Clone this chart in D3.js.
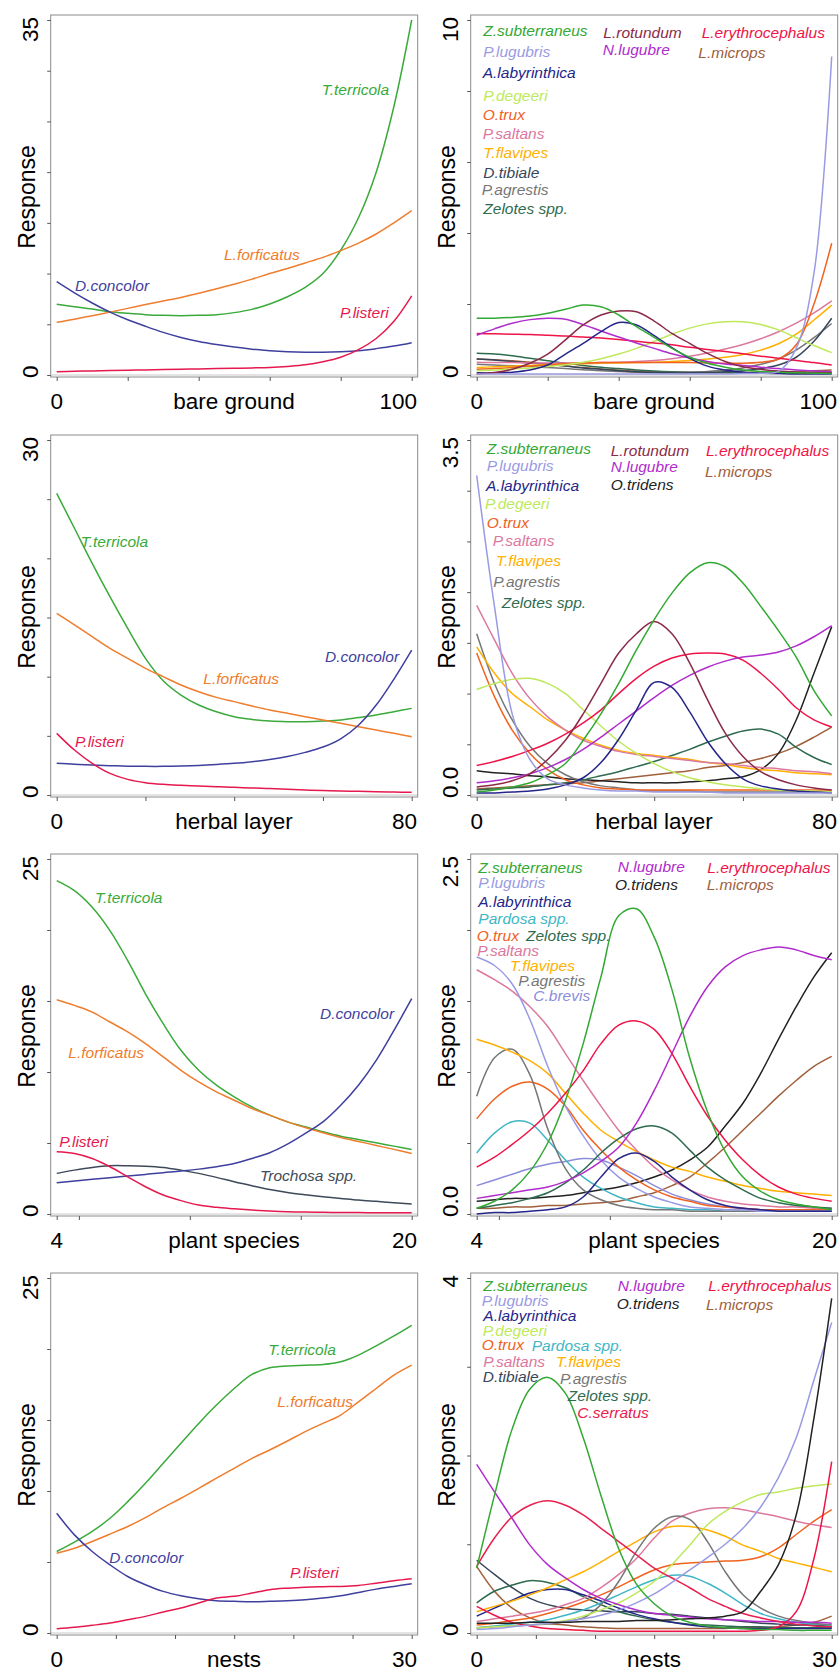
<!DOCTYPE html>
<html>
<head>
<meta charset="utf-8">
<script src="https://cdn.jsdelivr.net/npm/d3@7"></script>
<style>
  body { margin: 0; background: #fff; }
  text { font-family: "Liberation Sans", Arial, sans-serif; }
</style>
</head>
<body>
<script>
// x grids of the four gradients
var xBare = [0, 5, 10, 15, 20, 25, 30, 35, 40, 45, 50, 55, 60, 65, 70, 75, 80, 85, 90, 95, 100]
var xHerbal = [0, 4, 8, 12, 16, 20, 24, 28, 32, 36, 40, 44, 48, 52, 56, 60, 64, 68, 72, 76, 80]
var xPlant = [4, 4.8, 5.6, 6.4, 7.2, 8, 8.8, 9.6, 10.4, 11.2, 12, 12.8, 13.6, 14.4, 15.2, 16, 16.8, 17.6, 18.4, 19.2, 20]
var xNests = [0, 1.5, 3, 4.5, 6, 7.5, 9, 10.5, 12, 13.5, 15, 16.5, 18, 19.5, 21, 22.5, 24, 25.5, 27, 28.5, 30]

// bare ground, abundant species
var bareLeft = [
  ['T.terricola', [6.97, 6.74, 6.51, 6.24, 6.08, 5.95, 5.88, 5.85, 5.88, 5.95, 6.15, 6.47, 7.0, 7.72, 8.64, 10.0, 12.3, 15.5, 20.0, 26.5, 35.0]],
  ['L.forficatus', [5.19, 5.5, 5.85, 6.2, 6.57, 6.95, 7.3, 7.65, 8.05, 8.5, 8.95, 9.45, 10.0, 10.5, 11.05, 11.6, 12.26, 13.0, 13.9, 15.0, 16.2]],
  ['D.concolor', [9.2, 8.1, 7.1, 6.2, 5.45, 4.8, 4.2, 3.7, 3.3, 3.0, 2.75, 2.55, 2.4, 2.3, 2.25, 2.25, 2.3, 2.4, 2.6, 2.85, 3.19]],
  ['P.listeri', [0.33, 0.37, 0.4, 0.44, 0.47, 0.5, 0.53, 0.56, 0.6, 0.63, 0.66, 0.7, 0.75, 0.85, 1.0, 1.3, 1.75, 2.5, 3.6, 5.3, 7.8]]
]

// bare ground, other species
var bareRight = [
  ['L.microps', [0.45, 0.43, 0.4, 0.36, 0.31, 0.26, 0.21, 0.17, 0.14, 0.11, 0.09, 0.08, 0.07, 0.07, 0.07, 0.07, 0.08, 0.09, 0.1, 0.12, 0.14]],
  ['Zelotes spp.', [0.61, 0.59, 0.54, 0.47, 0.4, 0.33, 0.27, 0.22, 0.18, 0.14, 0.11, 0.09, 0.08, 0.07, 0.06, 0.06, 0.05, 0.05, 0.05, 0.05, 0.05]],
  ['P.agrestis', [0.3, 0.28, 0.26, 0.24, 0.21, 0.18, 0.15, 0.12, 0.1, 0.08, 0.07, 0.07, 0.08, 0.1, 0.14, 0.2, 0.3, 0.45, 0.7, 1.05, 1.45]],
  ['D.tibiale', [0.45, 0.42, 0.38, 0.34, 0.3, 0.25, 0.2, 0.16, 0.12, 0.09, 0.07, 0.06, 0.06, 0.07, 0.09, 0.12, 0.18, 0.28, 0.5, 0.95, 1.6]],
  ['T.flavipes', [0.21, 0.23, 0.25, 0.27, 0.29, 0.31, 0.32, 0.33, 0.34, 0.35, 0.36, 0.38, 0.41, 0.45, 0.5, 0.58, 0.7, 0.88, 1.15, 1.55, 1.97]],
  ['P.saltans', [0.36, 0.35, 0.35, 0.34, 0.34, 0.34, 0.34, 0.35, 0.36, 0.38, 0.41, 0.46, 0.53, 0.62, 0.73, 0.86, 1.02, 1.22, 1.46, 1.75, 2.09]],
  ['O.trux', [0.16, 0.18, 0.21, 0.25, 0.29, 0.32, 0.34, 0.35, 0.35, 0.35, 0.35, 0.35, 0.35, 0.34, 0.33, 0.33, 0.36, 0.45, 0.85, 2.0, 3.71]],
  ['P.degeeri', [0.12, 0.14, 0.17, 0.2, 0.24, 0.29, 0.36, 0.46, 0.59, 0.75, 0.95, 1.15, 1.32, 1.44, 1.5, 1.5, 1.42, 1.27, 1.05, 0.83, 0.63]],
  ['L.erythrocephalus', [1.17, 1.16, 1.15, 1.14, 1.12, 1.1, 1.07, 1.04, 1.0, 0.95, 0.9, 0.85, 0.78, 0.72, 0.66, 0.6, 0.53, 0.47, 0.41, 0.35, 0.28]],
  ['N.lugubre', [1.12, 1.3, 1.46, 1.56, 1.6, 1.57, 1.42, 1.24, 1.07, 0.9, 0.75, 0.6, 0.48, 0.38, 0.31, 0.27, 0.22, 0.18, 0.14, 0.11, 0.09]],
  ['A.labyrinthica', [0.06, 0.06, 0.08, 0.14, 0.28, 0.59, 0.89, 1.22, 1.48, 1.41, 1.11, 0.77, 0.47, 0.25, 0.14, 0.08, 0.05, 0.04, 0.03, 0.03, 0.03]],
  ['L.rotundum', [0.03, 0.07, 0.16, 0.33, 0.59, 0.99, 1.41, 1.69, 1.8, 1.78, 1.52, 1.17, 0.89, 0.61, 0.38, 0.23, 0.16, 0.11, 0.08, 0.07, 0.06]],
  ['Z.subterraneus', [1.6, 1.6, 1.62, 1.66, 1.74, 1.85, 1.97, 1.92, 1.69, 1.36, 1.06, 0.75, 0.5, 0.33, 0.22, 0.14, 0.1, 0.08, 0.06, 0.05, 0.04]],
  ['P.lugubris', [0.03, 0.03, 0.03, 0.03, 0.03, 0.03, 0.03, 0.03, 0.03, 0.03, 0.03, 0.03, 0.03, 0.03, 0.03, 0.04, 0.05, 0.1, 0.75, 2.86, 8.97]]
]

// herbal layer
var herbalLeft = [
  ['T.terricola', [25.49, 22.54, 19.58, 16.76, 14.08, 11.55, 9.66, 8.45, 7.61, 7.04, 6.62, 6.39, 6.25, 6.2, 6.2, 6.25, 6.34, 6.54, 6.76, 7.04, 7.32]],
  ['L.forficatus', [15.35, 14.37, 13.38, 12.39, 11.55, 10.7, 10.0, 9.3, 8.73, 8.25, 7.89, 7.52, 7.18, 6.9, 6.62, 6.34, 6.06, 5.77, 5.49, 5.21, 4.93]],
  ['D.concolor', [2.68, 2.6, 2.53, 2.48, 2.44, 2.42, 2.42, 2.45, 2.5, 2.58, 2.68, 2.82, 3.0, 3.25, 3.6, 4.05, 4.75, 5.9, 7.6, 9.8, 12.25]],
  ['P.listeri', [5.21, 3.8, 2.68, 1.83, 1.32, 1.04, 0.9, 0.82, 0.76, 0.7, 0.65, 0.59, 0.54, 0.48, 0.42, 0.37, 0.34, 0.31, 0.28, 0.25, 0.23]]
]

var herbalRight = [
  ['L.microps', [0.06, 0.07, 0.08, 0.09, 0.1, 0.11, 0.12, 0.14, 0.16, 0.18, 0.2, 0.22, 0.24, 0.27, 0.29, 0.32, 0.36, 0.41, 0.48, 0.57, 0.67]],
  ['O.tridens', [0.24, 0.22, 0.21, 0.19, 0.18, 0.16, 0.15, 0.14, 0.13, 0.12, 0.12, 0.12, 0.13, 0.14, 0.16, 0.18, 0.25, 0.41, 0.74, 1.2, 1.66]],
  ['Zelotes spp.', [0.05, 0.06, 0.07, 0.08, 0.1, 0.12, 0.15, 0.19, 0.23, 0.28, 0.33, 0.39, 0.45, 0.52, 0.58, 0.63, 0.65, 0.6, 0.47, 0.37, 0.3]],
  ['P.agrestis', [1.59, 1.1, 0.74, 0.48, 0.31, 0.2, 0.13, 0.09, 0.07, 0.05, 0.04, 0.04, 0.04, 0.03, 0.03, 0.03, 0.03, 0.03, 0.03, 0.03, 0.03]],
  ['T.flavipes', [1.46, 1.2, 1.0, 0.87, 0.74, 0.64, 0.56, 0.49, 0.44, 0.41, 0.39, 0.37, 0.35, 0.32, 0.3, 0.27, 0.25, 0.24, 0.22, 0.21, 0.2]],
  ['P.saltans', [1.87, 1.53, 1.2, 0.95, 0.77, 0.64, 0.54, 0.48, 0.43, 0.4, 0.38, 0.36, 0.34, 0.32, 0.31, 0.29, 0.27, 0.26, 0.24, 0.23, 0.21]],
  ['O.trux', [1.4, 0.97, 0.64, 0.41, 0.25, 0.15, 0.1, 0.07, 0.06, 0.05, 0.05, 0.05, 0.05, 0.05, 0.05, 0.05, 0.05, 0.05, 0.05, 0.05, 0.05]],
  ['P.degeeri', [1.04, 1.1, 1.14, 1.15, 1.1, 1.0, 0.84, 0.68, 0.53, 0.41, 0.31, 0.23, 0.17, 0.13, 0.1, 0.08, 0.06, 0.05, 0.04, 0.04, 0.03]],
  ['L.erythrocephalus', [0.29, 0.33, 0.38, 0.44, 0.51, 0.6, 0.71, 0.84, 1.0, 1.15, 1.27, 1.35, 1.39, 1.4, 1.39, 1.33, 1.2, 1.04, 0.86, 0.74, 0.67]],
  ['N.lugubre', [0.12, 0.14, 0.17, 0.21, 0.27, 0.35, 0.45, 0.57, 0.7, 0.83, 0.96, 1.08, 1.18, 1.26, 1.32, 1.36, 1.38, 1.41, 1.47, 1.56, 1.67]],
  ['A.labyrinthica', [0.02, 0.02, 0.03, 0.04, 0.06, 0.1, 0.17, 0.32, 0.55, 0.84, 1.11, 1.06, 0.82, 0.53, 0.31, 0.16, 0.09, 0.06, 0.04, 0.03, 0.02]],
  ['L.rotundum', [0.08, 0.1, 0.14, 0.21, 0.35, 0.54, 0.8, 1.1, 1.4, 1.59, 1.71, 1.59, 1.3, 0.94, 0.61, 0.38, 0.23, 0.15, 0.1, 0.07, 0.05]],
  ['Z.subterraneus', [0.03, 0.05, 0.08, 0.12, 0.2, 0.31, 0.54, 0.8, 1.1, 1.43, 1.73, 1.99, 2.19, 2.29, 2.25, 2.09, 1.86, 1.62, 1.36, 1.03, 0.78]],
  ['P.lugubris', [3.15, 1.86, 0.8, 0.35, 0.16, 0.1, 0.07, 0.05, 0.04, 0.04, 0.03, 0.03, 0.03, 0.03, 0.02, 0.02, 0.02, 0.02, 0.02, 0.02, 0.02]]
]

// plant species
var plantLeft = [
  ['Trochosa spp.', [2.86, 3.09, 3.28, 3.4, 3.4, 3.37, 3.28, 3.09, 2.86, 2.58, 2.27, 1.99, 1.73, 1.52, 1.36, 1.22, 1.1, 0.98, 0.89, 0.8, 0.7]],
  ['T.terricola', [23.48, 22.77, 21.6, 19.96, 17.85, 15.51, 13.4, 11.53, 10.12, 9.07, 8.25, 7.54, 6.96, 6.49, 6.14, 5.79, 5.48, 5.25, 5.01, 4.78, 4.55]],
  ['L.forficatus', [15.09, 14.69, 14.22, 13.52, 12.82, 12.0, 11.06, 10.12, 9.3, 8.6, 8.01, 7.43, 6.96, 6.49, 6.09, 5.72, 5.39, 5.11, 4.83, 4.55, 4.26]],
  ['D.concolor', [2.2, 2.32, 2.44, 2.55, 2.67, 2.79, 2.91, 3.02, 3.16, 3.33, 3.56, 3.91, 4.31, 4.92, 5.67, 6.49, 7.66, 9.07, 10.82, 12.93, 15.16]],
  ['P.listeri', [4.38, 4.26, 3.91, 3.33, 2.62, 1.92, 1.34, 0.94, 0.63, 0.47, 0.37, 0.28, 0.21, 0.16, 0.14, 0.12, 0.11, 0.1, 0.09, 0.09, 0.08]]
]

var plantRight = [
  ['L.microps', [0.04, 0.04, 0.05, 0.05, 0.06, 0.06, 0.07, 0.08, 0.09, 0.12, 0.15, 0.2, 0.26, 0.36, 0.47, 0.59, 0.71, 0.83, 0.94, 1.04, 1.11]],
  ['O.tridens', [0.09, 0.1, 0.11, 0.11, 0.12, 0.13, 0.15, 0.17, 0.19, 0.22, 0.26, 0.31, 0.38, 0.47, 0.62, 0.78, 0.99, 1.23, 1.46, 1.67, 1.84]],
  ['C.brevis', [0.2, 0.24, 0.28, 0.32, 0.35, 0.37, 0.39, 0.38, 0.33, 0.27, 0.2, 0.14, 0.1, 0.07, 0.05, 0.04, 0.03, 0.03, 0.03, 0.03, 0.03]],
  ['Pardosa spp.', [0.43, 0.57, 0.65, 0.64, 0.52, 0.38, 0.26, 0.18, 0.12, 0.08, 0.05, 0.04, 0.03, 0.03, 0.02, 0.02, 0.02, 0.02, 0.02, 0.02, 0.02]],
  ['O.trux', [0.67, 0.81, 0.9, 0.93, 0.88, 0.76, 0.59, 0.45, 0.33, 0.24, 0.17, 0.12, 0.09, 0.06, 0.05, 0.04, 0.03, 0.03, 0.03, 0.03, 0.03]],
  ['P.agrestis', [0.83, 1.1, 1.16, 0.98, 0.6, 0.32, 0.17, 0.1, 0.06, 0.04, 0.03, 0.03, 0.02, 0.02, 0.02, 0.02, 0.02, 0.02, 0.02, 0.02, 0.02]],
  ['T.flavipes', [1.23, 1.19, 1.14, 1.08, 0.99, 0.85, 0.71, 0.59, 0.51, 0.44, 0.38, 0.33, 0.3, 0.26, 0.23, 0.2, 0.18, 0.16, 0.15, 0.14, 0.13]],
  ['P.saltans', [1.72, 1.65, 1.57, 1.46, 1.32, 1.13, 0.94, 0.76, 0.59, 0.45, 0.33, 0.24, 0.17, 0.12, 0.09, 0.07, 0.06, 0.05, 0.05, 0.04, 0.04]],
  ['P.lugubris', [1.81, 1.75, 1.62, 1.37, 1.04, 0.76, 0.55, 0.38, 0.26, 0.18, 0.12, 0.08, 0.05, 0.04, 0.03, 0.03, 0.02, 0.02, 0.02, 0.02, 0.02]],
  ['Zelotes spp.', [0.04, 0.06, 0.08, 0.11, 0.15, 0.22, 0.31, 0.43, 0.53, 0.6, 0.62, 0.57, 0.45, 0.33, 0.24, 0.17, 0.11, 0.08, 0.06, 0.05, 0.04]],
  ['A.labyrinthica', [0.0, 0.01, 0.01, 0.02, 0.03, 0.05, 0.12, 0.26, 0.39, 0.43, 0.37, 0.26, 0.17, 0.1, 0.06, 0.04, 0.03, 0.02, 0.02, 0.02, 0.02]],
  ['N.lugubre', [0.11, 0.13, 0.15, 0.17, 0.19, 0.23, 0.29, 0.37, 0.47, 0.64, 0.87, 1.13, 1.39, 1.6, 1.74, 1.82, 1.86, 1.88, 1.86, 1.82, 1.79]],
  ['L.erythrocephalus', [0.33, 0.4, 0.49, 0.59, 0.71, 0.85, 1.01, 1.2, 1.33, 1.36, 1.3, 1.13, 0.9, 0.69, 0.52, 0.38, 0.27, 0.19, 0.14, 0.11, 0.09]],
  ['Z.subterraneus', [0.04, 0.09, 0.17, 0.3, 0.5, 0.8, 1.2, 1.67, 2.1, 2.15, 1.95, 1.58, 1.1, 0.72, 0.44, 0.26, 0.16, 0.1, 0.07, 0.05, 0.03]]
]

// nests
var nestsLeft = [
  ['T.terricola', [5.74, 6.4, 7.15, 8.08, 9.25, 10.54, 11.95, 13.36, 14.76, 16.05, 17.22, 18.21, 18.68, 18.81, 18.86, 18.91, 19.1, 19.57, 20.22, 20.92, 21.67]],
  ['L.forficatus', [5.62, 5.97, 6.44, 6.96, 7.5, 8.13, 8.83, 9.49, 10.19, 10.9, 11.6, 12.3, 12.89, 13.52, 14.18, 14.76, 15.35, 16.28, 17.22, 18.16, 18.86]],
  ['D.concolor', [8.43, 6.91, 5.74, 4.8, 3.98, 3.4, 2.93, 2.62, 2.41, 2.27, 2.23, 2.2, 2.23, 2.27, 2.34, 2.46, 2.62, 2.86, 3.09, 3.28, 3.47]],
  ['P.listeri', [0.3, 0.4, 0.54, 0.7, 0.94, 1.17, 1.48, 1.76, 2.11, 2.46, 2.58, 2.81, 3.05, 3.16, 3.23, 3.26, 3.28, 3.35, 3.51, 3.68, 3.82]]
]

var nestsRight = [
  ['L.microps', [0.75, 0.47, 0.28, 0.17, 0.11, 0.09, 0.07, 0.06, 0.05, 0.05, 0.05, 0.05, 0.05, 0.05, 0.05, 0.06, 0.06, 0.07, 0.09, 0.12, 0.19]],
  ['D.tibiale', [0.82, 0.66, 0.51, 0.39, 0.32, 0.28, 0.26, 0.25, 0.24, 0.24, 0.22, 0.21, 0.19, 0.17, 0.15, 0.13, 0.11, 0.1, 0.09, 0.09, 0.07]],
  ['Zelotes spp.', [0.34, 0.47, 0.54, 0.59, 0.57, 0.51, 0.41, 0.32, 0.24, 0.19, 0.15, 0.12, 0.1, 0.09, 0.08, 0.07, 0.07, 0.06, 0.06, 0.06, 0.06]],
  ['A.labyrinthica', [0.19, 0.28, 0.37, 0.45, 0.49, 0.49, 0.43, 0.36, 0.28, 0.21, 0.16, 0.12, 0.09, 0.07, 0.06, 0.05, 0.05, 0.05, 0.05, 0.05, 0.05]],
  ['Pardosa spp.', [0.06, 0.08, 0.1, 0.12, 0.15, 0.2, 0.26, 0.34, 0.43, 0.52, 0.6, 0.65, 0.64, 0.56, 0.45, 0.32, 0.22, 0.16, 0.12, 0.1, 0.09]],
  ['O.trux', [0.09, 0.11, 0.14, 0.17, 0.22, 0.28, 0.35, 0.43, 0.52, 0.62, 0.71, 0.77, 0.79, 0.8, 0.81, 0.82, 0.86, 0.96, 1.11, 1.26, 1.39]],
  ['T.flavipes', [0.24, 0.3, 0.36, 0.43, 0.51, 0.6, 0.69, 0.8, 0.92, 1.03, 1.14, 1.2, 1.2, 1.16, 1.09, 0.99, 0.92, 0.84, 0.79, 0.74, 0.69]],
  ['P.saltans', [0.13, 0.16, 0.19, 0.22, 0.26, 0.32, 0.39, 0.51, 0.66, 0.84, 1.07, 1.26, 1.35, 1.4, 1.41, 1.39, 1.35, 1.31, 1.26, 1.22, 1.19]],
  ['P.agrestis', [0.06, 0.07, 0.08, 0.09, 0.1, 0.13, 0.17, 0.32, 0.58, 0.92, 1.18, 1.31, 1.28, 1.03, 0.69, 0.43, 0.28, 0.19, 0.14, 0.11, 0.09]],
  ['P.degeeri', [0.06, 0.07, 0.08, 0.09, 0.11, 0.14, 0.19, 0.26, 0.34, 0.45, 0.58, 0.77, 0.99, 1.22, 1.37, 1.48, 1.56, 1.59, 1.63, 1.66, 1.68]],
  ['N.lugubre', [1.9, 1.59, 1.29, 0.99, 0.77, 0.62, 0.49, 0.39, 0.32, 0.26, 0.22, 0.2, 0.18, 0.16, 0.15, 0.14, 0.13, 0.13, 0.12, 0.12, 0.11]],
  ['C.serratus', [0.75, 1.07, 1.31, 1.44, 1.49, 1.44, 1.33, 1.18, 1.03, 0.88, 0.73, 0.62, 0.51, 0.39, 0.3, 0.22, 0.17, 0.13, 0.1, 0.08, 0.07]],
  ['L.erythrocephalus', [0.3, 0.2, 0.12, 0.08, 0.05, 0.04, 0.03, 0.02, 0.02, 0.02, 0.02, 0.02, 0.02, 0.02, 0.02, 0.02, 0.03, 0.07, 0.24, 0.84, 1.93]],
  ['P.lugubris', [0.04, 0.05, 0.07, 0.09, 0.11, 0.13, 0.16, 0.2, 0.26, 0.34, 0.44, 0.57, 0.71, 0.85, 1.0, 1.18, 1.42, 1.75, 2.2, 2.85, 3.5]],
  ['O.tridens', [0.11, 0.11, 0.11, 0.12, 0.12, 0.12, 0.13, 0.13, 0.13, 0.14, 0.14, 0.15, 0.16, 0.17, 0.19, 0.24, 0.47, 0.77, 1.33, 2.42, 3.77]],
  ['Z.subterraneus', [0.73, 1.55, 2.3, 2.75, 2.88, 2.7, 2.2, 1.55, 0.95, 0.55, 0.33, 0.19, 0.12, 0.08, 0.06, 0.05, 0.04, 0.04, 0.03, 0.03, 0.03]]
]

// axis ticks and their two printed labels
var bareTicks = [0, 20, 40, 60, 80, 100]
var herbalTicks = [0, 20, 40, 60, 80]
var plantTicks = [4, 5, 10, 15, 20]
var nestsTicks = [0, 5, 10, 15, 20, 25, 30]

var colours = {
  'T.terricola': '#3aaa3a',
  'L.forficatus': '#ef7d2d',
  'D.concolor': '#3f3f9f',
  'P.listeri': '#e6194f',
  'Trochosa spp.': '#3e4a59',
  'Z.subterraneus': '#33a833',
  'P.lugubris': '#9a9ae4',
  'A.labyrinthica': '#25258a',
  'P.degeeri': '#bde95a',
  'O.trux': '#f0621e',
  'P.saltans': '#dc789e',
  'T.flavipes': '#ffb000',
  'D.tibiale': '#36465a',
  'P.agrestis': '#767676',
  'Zelotes spp.': '#2e6b4f',
  'L.rotundum': '#8b2a48',
  'N.lugubre': '#b02ccc',
  'L.erythrocephalus': '#ef1448',
  'L.microps': '#a0603c',
  'O.tridens': '#222222',
  'Pardosa spp.': '#3fb6c6',
  'C.brevis': '#8c8cdc',
  'C.serratus': '#e8204e'
}

// where the species names sit inside each panel: [name, x, baseline]
var bareLeftNames = [['T.terricola', 321.7, 95], ['L.forficatus', 224, 260], ['D.concolor', 75, 290.7], ['P.listeri', 340, 318.3]]
var bareRightNames = [
  ['Z.subterraneus', 63.3, 35.7], ['P.lugubris', 63.3, 56.7], ['A.labyrinthica', 62.7, 78.3], ['P.degeeri', 63.3, 100.7],
  ['O.trux', 62.7, 120], ['P.saltans', 62.7, 139], ['T.flavipes', 63.3, 158.3], ['D.tibiale', 63.3, 177.7],
  ['P.agrestis', 61.7, 195], ['Zelotes spp.', 63.3, 214], ['L.rotundum', 183.3, 37.7], ['N.lugubre', 182.7, 55],
  ['L.erythrocephalus', 281.7, 38.3], ['L.microps', 278.3, 57.7]
]
var herbalLeftNames = [['T.terricola', 80.7, 126.7], ['L.forficatus', 203.3, 264.3], ['D.concolor', 325, 242.3], ['P.listeri', 75, 327.3]]
var herbalRightNames = [
  ['Z.subterraneus', 66.7, 34.3], ['P.lugubris', 66.7, 51], ['A.labyrinthica', 66, 71], ['P.degeeri', 65, 89.3],
  ['O.trux', 66.7, 107.7], ['P.saltans', 72.7, 126], ['T.flavipes', 76, 146], ['P.agrestis', 73.3, 166.7],
  ['Zelotes spp.', 81.7, 188.3], ['L.rotundum', 190.7, 35.7], ['N.lugubre', 190.7, 52.3], ['O.tridens', 190.7, 70],
  ['L.erythrocephalus', 286, 35.7], ['L.microps', 285, 56.7]
]
var plantLeftNames = [['T.terricola', 95, 64.3], ['L.forficatus', 68.3, 219.3], ['D.concolor', 320, 180], ['P.listeri', 59.3, 307.7], ['Trochosa spp.', 260, 342]]
var plantRightNames = [
  ['Z.subterraneus', 58.3, 34.3], ['P.lugubris', 58.3, 49.3], ['A.labyrinthica', 58.3, 67.7], ['Pardosa spp.', 58.3, 85],
  ['O.trux', 56.7, 102], ['Zelotes spp.', 106, 102], ['P.saltans', 57.3, 116.7], ['T.flavipes', 90, 131.7],
  ['P.agrestis', 98.3, 147], ['C.brevis', 113.3, 161.7], ['N.lugubre', 197.7, 33.3], ['O.tridens', 195, 51],
  ['L.erythrocephalus', 287.3, 34.3], ['L.microps', 286.7, 51]
]
var nestsLeftNames = [['T.terricola', 268.3, 96.7], ['L.forficatus', 277.3, 149.3], ['D.concolor', 109.3, 305], ['P.listeri', 290, 320.3]]
var nestsRightNames = [
  ['Z.subterraneus', 63.3, 33], ['P.lugubris', 61.7, 48.3], ['A.labyrinthica', 63.3, 63.3], ['P.degeeri', 62.7, 78.3],
  ['O.trux', 61.7, 92.3], ['Pardosa spp.', 111.7, 93], ['P.saltans', 63.3, 109], ['T.flavipes', 136, 109],
  ['D.tibiale', 62.7, 124], ['P.agrestis', 140, 125.7], ['Zelotes spp.', 147.7, 143], ['C.serratus', 157.3, 159.7],
  ['N.lugubre', 197.7, 33], ['O.tridens', 196.7, 51.3], ['L.erythrocephalus', 288.3, 33], ['L.microps', 286, 52.3]
]

var rowTop = [0, 420, 839, 1258]

var panels = [
  { col: 0, row: 0, xs: xBare, ticks: bareTicks, ymax: 35, ystep: 5, ylab: ['0', '35'], title: 'bare ground', series: bareLeft, names: bareLeftNames },
  { col: 1, row: 0, xs: xBare, ticks: bareTicks, ymax: 10, ystep: 2, ylab: ['0', '10'], title: 'bare ground', series: bareRight, names: bareRightNames },
  { col: 0, row: 1, xs: xHerbal, ticks: herbalTicks, ymax: 30, ystep: 5, ylab: ['0', '30'], title: 'herbal layer', series: herbalLeft, names: herbalLeftNames },
  { col: 1, row: 1, xs: xHerbal, ticks: herbalTicks, ymax: 3.5, ystep: 0.5, ylab: ['0.0', '3.5'], title: 'herbal layer', series: herbalRight, names: herbalRightNames },
  { col: 0, row: 2, xs: xPlant, ticks: plantTicks, ymax: 25, ystep: 5, ylab: ['0', '25'], title: 'plant species', series: plantLeft, names: plantLeftNames },
  { col: 1, row: 2, xs: xPlant, ticks: plantTicks, ymax: 2.5, ystep: 0.5, ylab: ['0.0', '2.5'], title: 'plant species', series: plantRight, names: plantRightNames },
  { col: 0, row: 3, xs: xNests, ticks: nestsTicks, ymax: 25, ystep: 5, ylab: ['0', '25'], title: 'nests', series: nestsLeft, names: nestsLeftNames },
  { col: 1, row: 3, xs: xNests, ticks: nestsTicks, ymax: 4, ystep: 1, ylab: ['0', '4'], title: 'nests', series: nestsRight, names: nestsRightNames }
]

var svg = d3.select('body').append('svg')
  .attr('width', 840)
  .attr('height', 1679)

svg.append('rect').attr('width', 840).attr('height', 1679).attr('fill', '#fff')

function drawPanel (p) {
  var g = svg.append('g')
    .attr('transform', 'translate(' + (p.col * 420) + ',' + rowTop[p.row] + ')')

  var x = d3.scaleLinear()
    .domain([p.xs[0], p.xs[p.xs.length - 1]])
    .range([56.7, 411.7])
  var y = d3.scaleLinear()
    .domain([0, p.ymax])
    .range([375, 20])

  var clipId = 'clip' + p.col + p.row
  g.append('clipPath').attr('id', clipId)
    .append('rect').attr('x', 50.7).attr('y', 15).attr('width', 367).attr('height', 362)

  // zero line
  g.append('line')
    .attr('x1', 50.7).attr('x2', 417.7)
    .attr('y1', y(0)).attr('y2', y(0))
    .attr('stroke', '#c8c8c8')

  var line = d3.line()
    .x(function (d, i) { return x(p.xs[i]) })
    .y(function (d) { return y(d) })
    .curve(d3.curveCatmullRom.alpha(0.5))

  g.append('g').attr('clip-path', 'url(#' + clipId + ')')
    .selectAll('path')
    .data(p.series)
    .join('path')
    .attr('d', function (d) { return line(d[1]) })
    .attr('fill', 'none')
    .attr('stroke', function (d) { return colours[d[0]] })
    .attr('stroke-width', 1.5)

  // plot box
  g.append('rect')
    .attr('x', 50.7).attr('y', 15)
    .attr('width', 367).attr('height', 362)
    .attr('fill', 'none')
    .attr('stroke', '#8c8c8c')

  // ticks
  var yTicks = d3.range(0, p.ymax + p.ystep / 2, p.ystep)
  g.append('g')
    .attr('transform', 'translate(50.7,0)')
    .attr('color', '#555')
    .call(d3.axisLeft(y).tickValues(yTicks).tickSize(3.5).tickFormat(''))
    .call(function (a) { a.select('.domain').remove() })
  g.append('g')
    .attr('transform', 'translate(0,377)')
    .attr('color', '#555')
    .call(d3.axisBottom(x).tickValues(p.ticks).tickSize(4).tickFormat(''))
    .call(function (a) { a.select('.domain').remove() })

  var axisFont = '22.5px'

  // x tick labels and title
  g.append('text').attr('x', x(p.xs[0])).attr('y', 409)
    .attr('text-anchor', 'middle').style('font-size', axisFont)
    .text(p.ticks[0])
  g.append('text').attr('x', 417).attr('y', 409)
    .attr('text-anchor', 'end').style('font-size', axisFont)
    .text(p.ticks[p.ticks.length - 1])
  g.append('text').attr('x', 234).attr('y', 409)
    .attr('text-anchor', 'middle').style('font-size', axisFont)
    .text(p.title)

  // y tick labels and title (rotated)
  g.append('text').attr('transform', 'translate(38,378) rotate(-90)')
    .attr('text-anchor', 'start').style('font-size', axisFont)
    .text(p.ylab[0])
  g.append('text').attr('transform', 'translate(38,17) rotate(-90)')
    .attr('text-anchor', 'end').style('font-size', axisFont)
    .text(p.ylab[1])
  g.append('text').attr('transform', 'translate(35,197) rotate(-90)')
    .attr('text-anchor', 'middle').style('font-size', '23px')
    .text('Response')

  // species names
  g.selectAll('text.sp')
    .data(p.names)
    .join('text')
    .attr('class', 'sp')
    .attr('x', function (d) { return d[1] })
    .attr('y', function (d) { return d[2] })
    .attr('fill', function (d) { return colours[d[0]] })
    .style('font-style', 'italic')
    .style('font-size', '15.5px')
    .text(function (d) { return d[0] })
}

panels.forEach(drawPanel)
</script>
</body>
</html>
